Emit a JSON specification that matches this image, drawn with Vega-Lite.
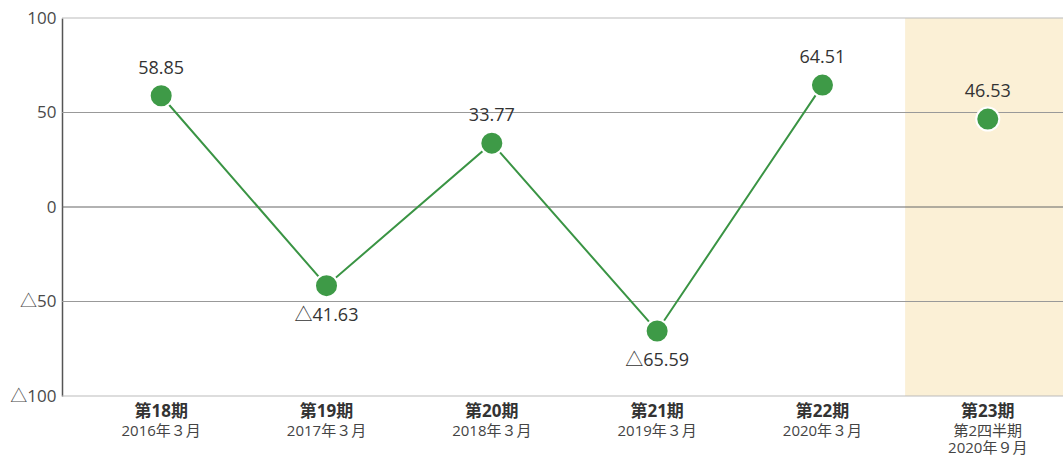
{
  "$schema": "https://vega.github.io/schema/vega-lite/v6.json",
  "width": 1001,
  "height": 378,
  "autosize": {"type": "none"},
  "padding": {"left": 62, "top": 18, "right": 0, "bottom": 61},
  "background": "white",
  "config": {"view": {"stroke": null}, "font": "Open Sans, Noto Sans CJK JP"},
  "datasets": {
    "pts": [
      {"i": 0, "period": "第18期", "l2": "2016年３月", "l3": "", "value": 58.85, "label": "58.85"},
      {"i": 1, "period": "第19期", "l2": "2017年３月", "l3": "", "value": -41.63, "label": "△41.63"},
      {"i": 2, "period": "第20期", "l2": "2018年３月", "l3": "", "value": 33.77, "label": "33.77"},
      {"i": 3, "period": "第21期", "l2": "2019年３月", "l3": "", "value": -65.59, "label": "△65.59"},
      {"i": 4, "period": "第22期", "l2": "2020年３月", "l3": "", "value": 64.51, "label": "64.51"},
      {"i": 5, "period": "第23期", "l2": "第2四半期", "l3": "2020年９月", "value": 46.53, "label": "46.53"}
    ],
    "grid": [
      {"v": 100, "kind": "edge"},
      {"v": 50, "kind": "mid"},
      {"v": -50, "kind": "mid"},
      {"v": -100, "kind": "edge"}
    ]
  },
  "layer": [
    {
      "data": {"values": [{"a": 4.5, "b": 5.455}]},
      "mark": {"type": "rect", "color": "#FBF0D6"},
      "encoding": {
        "x": {"field": "a", "type": "quantitative", "scale": {"domain": [-0.6, 5.455], "nice": false, "zero": false}, "axis": null},
        "x2": {"field": "b"},
        "y": {"datum": 100, "type": "quantitative", "scale": {"domain": [-100, 100], "nice": false}, "axis": {"values": [100, 50, 0, -50, -100], "grid": false, "ticks": false, "domain": true, "domainColor": "#555555", "domainWidth": 1.5, "labelFontSize": 17, "labelColor": "#4A4A4A", "labelPadding": 6, "labelExpr": "datum.value < 0 ? '△' + abs(datum.value) : datum.label", "title": null}},
        "y2": {"datum": -100}
      }
    },
    {
      "data": {"name": "grid"},
      "mark": {"type": "rule", "strokeWidth": 1},
      "encoding": {
        "y": {"field": "v", "type": "quantitative"},
        "color": {"field": "kind", "type": "nominal", "scale": {"domain": ["edge", "mid"], "range": ["#BBBBBB", "#999999"]}, "legend": null}
      }
    },
    {
      "data": {"values": [{"v": 0}]},
      "mark": {"type": "rule", "strokeWidth": 1.2, "color": "#666666"},
      "encoding": {"y": {"field": "v", "type": "quantitative"}}
    },
    {
      "data": {"name": "pts"},
      "transform": [{"filter": "datum.i < 5"}],
      "mark": {"type": "line", "color": "#3A9444", "strokeWidth": 2},
      "encoding": {
        "x": {"field": "i", "type": "quantitative"},
        "y": {"field": "value", "type": "quantitative"}
      }
    },
    {
      "data": {"name": "pts"},
      "mark": {"type": "circle", "size": 530, "opacity": 1, "color": "#3E9A47", "stroke": "white", "strokeWidth": 2},
      "encoding": {
        "x": {"field": "i", "type": "quantitative"},
        "y": {"field": "value", "type": "quantitative"}
      }
    },
    {
      "data": {"name": "pts"},
      "transform": [{"filter": "datum.value >= 0"}],
      "mark": {"type": "text", "dy": -27, "fontSize": 18, "color": "#333333"},
      "encoding": {
        "x": {"field": "i", "type": "quantitative"},
        "y": {"field": "value", "type": "quantitative"},
        "text": {"field": "label"}
      }
    },
    {
      "data": {"name": "pts"},
      "transform": [{"filter": "datum.value < 0"}],
      "mark": {"type": "text", "dy": 30, "fontSize": 18, "color": "#333333"},
      "encoding": {
        "x": {"field": "i", "type": "quantitative"},
        "y": {"field": "value", "type": "quantitative"},
        "text": {"field": "label"}
      }
    },
    {
      "data": {"name": "pts"},
      "mark": {"type": "text", "dy": 16, "fontSize": 17, "fontWeight": "bold", "color": "#333333"},
      "encoding": {
        "x": {"field": "i", "type": "quantitative"},
        "y": {"datum": -100, "type": "quantitative"},
        "text": {"field": "period"}
      }
    },
    {
      "data": {"name": "pts"},
      "mark": {"type": "text", "dy": 35, "fontSize": 15, "color": "#444444"},
      "encoding": {
        "x": {"field": "i", "type": "quantitative"},
        "y": {"datum": -100, "type": "quantitative"},
        "text": {"field": "l2"}
      }
    },
    {
      "data": {"name": "pts"},
      "mark": {"type": "text", "dy": 52, "fontSize": 15, "color": "#444444"},
      "encoding": {
        "x": {"field": "i", "type": "quantitative"},
        "y": {"datum": -100, "type": "quantitative"},
        "text": {"field": "l3"}
      }
    }
  ]
}
